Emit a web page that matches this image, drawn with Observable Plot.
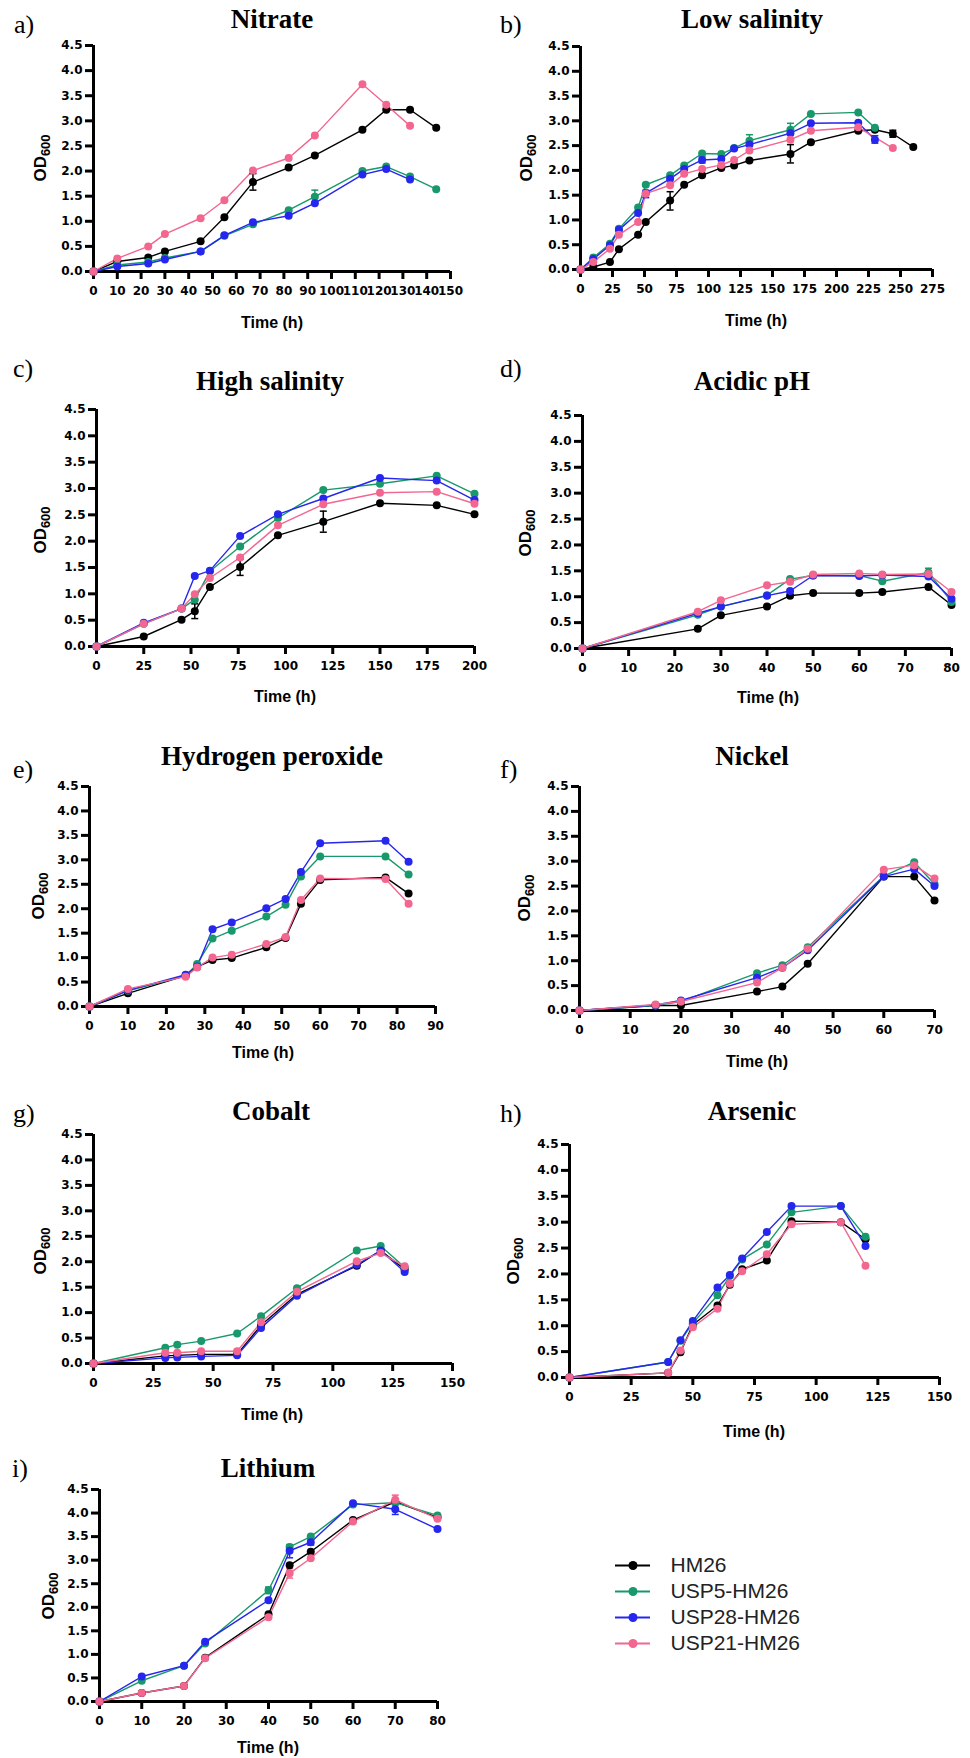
<!DOCTYPE html>
<html><head><meta charset="utf-8">
<script src="https://cdn.jsdelivr.net/npm/d3@7"></script>
<script src="https://cdn.jsdelivr.net/npm/@observablehq/plot@0.6"></script>
<style>
html,body{margin:0;padding:0;background:#fff;}
body{width:970px;height:1758px;position:relative;overflow:hidden;}
.panel{position:absolute;}
#overlay{position:absolute;left:0;top:0;pointer-events:none;}
</style></head><body>
<script>
// ---------- shared ----------
const series = ["HM26", "USP5-HM26", "USP28-HM26", "USP21-HM26"];
const colors = ["#000000", "#17996b", "#2626ee", "#f2668f"];
const yTicks = [0, 0.5, 1, 1.5, 2, 2.5, 3, 3.5, 4, 4.5];
const yLabelMain = "OD";
const yLabelSub = "600";
const xLabel = "Time (h)";

// ---------- a) Nitrate ----------
const timeA  = [0, 10, 23, 30, 45, 55, 67, 82, 93, 113, 123, 133, 144];
const hm26A  = [0, 0.20, 0.28, 0.40, 0.60, 1.08, 1.78, 2.07, 2.31, 2.82, 3.22, 3.22, 2.86];
const usp5A  = [0, 0.13, 0.19, 0.27, 0.40, 0.71, 0.94, 1.22, 1.49, 2.00, 2.09, 1.89, 1.64];
const usp28A = [0, 0.10, 0.16, 0.24, 0.40, 0.72, 0.98, 1.11, 1.36, 1.93, 2.04, 1.83, null];
const usp21A = [0, 0.26, 0.50, 0.745, 1.06, 1.42, 2.01, 2.26, 2.71, 3.73, 3.32, 2.90, null];
const ticksA = [0, 10, 20, 30, 40, 50, 60, 70, 80, 90, 100, 110, 120, 130, 140, 150];
const errA = [["HM26", 67, 1.62, 1.95], ["USP5-HM26", 93, 1.36, 1.62]];

// ---------- b) Low salinity ----------
const timeB  = [0, 10, 23, 30, 45, 51, 70, 81, 95, 110, 120, 132, 164, 180, 217, 230, 244, 260];
const hm26B  = [0, 0.05, 0.15, 0.41, 0.70, 0.96, 1.39, 1.71, 1.90, 2.05, 2.10, 2.20, 2.33, 2.57, 2.80, 2.82, 2.74, 2.47];
const usp5B  = [0, 0.24, 0.52, 0.82, 1.25, 1.71, 1.90, 2.10, 2.34, 2.33, 2.45, 2.60, 2.82, 3.14, 3.17, 2.86, null, null];
const usp28B = [0, 0.21, 0.49, 0.80, 1.14, 1.54, 1.83, 2.03, 2.21, 2.23, 2.44, 2.52, 2.75, 2.95, 2.96, 2.62, null, null];
const usp21B = [0, 0.15, 0.42, 0.70, 0.96, 1.53, 1.70, 1.93, 2.03, 2.11, 2.21, 2.40, 2.62, 2.80, 2.87, null, 2.45, null];
const ticksB = [0, 25, 50, 75, 100, 125, 150, 175, 200, 225, 250, 275];
const errB = [["HM26", 70, 1.20, 1.57], ["HM26", 164, 2.15, 2.52], ["USP5-HM26", 132, 2.55, 2.72],
              ["USP5-HM26", 164, 2.72, 2.95], ["HM26", 244, 2.67, 2.81], ["USP28-HM26", 230, 2.55, 2.70],
              ["USP28-HM26", 51, 1.45, 1.60], ["USP28-HM26", 95, 2.15, 2.27]];

// ---------- c) High salinity ----------
const timeC  = [0, 25, 45, 52, 60, 76, 96, 120, 150, 180, 200];
const hm26C  = [0, 0.19, 0.51, 0.67, 1.13, 1.51, 2.11, 2.37, 2.72, 2.68, 2.51];
const usp5C  = [0, 0.43, 0.72, 0.89, 1.43, 1.90, 2.44, 2.97, 3.09, 3.24, 2.90];
const usp28C = [0, 0.45, 0.72, 1.34, 1.44, 2.10, 2.51, 2.81, 3.20, 3.15, 2.78];
const usp21C = [0, 0.43, 0.72, 0.99, 1.30, 1.69, 2.30, 2.70, 2.92, 2.94, 2.71];
const ticksC = [0, 25, 50, 75, 100, 125, 150, 175, 200];
const errC = [["HM26", 52, 0.53, 0.81], ["HM26", 76, 1.35, 1.66], ["HM26", 120, 2.17, 2.57]];

// ---------- d) Acidic pH ----------
const timeD  = [0, 25, 30, 40, 45, 50, 60, 65, 75, 80];
const hm26D  = [0, 0.38, 0.64, 0.81, 1.02, 1.07, 1.07, 1.09, 1.19, 0.84];
const usp5D  = [0, 0.65, 0.81, 1.03, 1.34, 1.41, 1.41, 1.30, 1.47, 0.90];
const usp28D = [0, 0.68, 0.81, 1.02, 1.11, 1.41, 1.40, 1.42, 1.39, 0.96];
const usp21D = [0, 0.71, 0.93, 1.22, 1.29, 1.43, 1.45, 1.43, 1.44, 1.09];
const ticksD = [0, 10, 20, 30, 40, 50, 60, 70, 80];
const errD = [["USP5-HM26", 75, 1.42, 1.55]];

// ---------- e) Hydrogen peroxide ----------
const timeE  = [0, 10, 25, 28, 32, 37, 46, 51, 55, 60, 77, 83];
const hm26E  = [0, 0.27, 0.63, 0.81, 0.95, 0.99, 1.21, 1.40, 2.10, 2.59, 2.64, 2.31];
const usp5E  = [0, 0.32, 0.63, 0.87, 1.39, 1.55, 1.84, 2.08, 2.66, 3.07, 3.07, 2.70];
const usp28E = [0, 0.33, 0.65, 0.82, 1.58, 1.72, 2.01, 2.20, 2.75, 3.34, 3.39, 2.96];
const usp21E = [0, 0.36, 0.61, 0.80, 1.00, 1.06, 1.28, 1.42, 2.18, 2.62, 2.61, 2.10];
const ticksE = [0, 10, 20, 30, 40, 50, 60, 70, 80, 90];
const errE = [];

// ---------- f) Nickel ----------
const timeF  = [0, 15, 20, 35, 40, 45, 60, 66, 70];
const hm26F  = [0, 0.10, 0.10, 0.38, 0.48, 0.94, 2.69, 2.69, 2.21];
const usp5F  = [0, 0.10, 0.18, 0.75, 0.91, 1.27, 2.70, 2.98, 2.54];
const usp28F = [0, 0.11, 0.20, 0.66, 0.86, 1.21, 2.69, 2.84, 2.50];
const usp21F = [0, 0.12, 0.18, 0.56, 0.86, 1.24, 2.83, 2.92, 2.65];
const ticksF = [0, 10, 20, 30, 40, 50, 60, 70];
const errF = [];

// ---------- g) Cobalt ----------
const timeG  = [0, 30, 35, 45, 60, 70, 85, 110, 120, 130];
const hm26G  = [0, 0.15, 0.16, 0.18, 0.18, 0.75, 1.36, 1.92, 2.22, 1.85];
const usp5G  = [0, 0.31, 0.37, 0.44, 0.59, 0.93, 1.48, 2.22, 2.31, 1.89];
const usp28G = [0, 0.11, 0.12, 0.14, 0.16, 0.70, 1.33, 1.94, 2.22, 1.80];
const usp21G = [0, 0.21, 0.21, 0.24, 0.24, 0.81, 1.41, 2.01, 2.17, 1.91];
const ticksG = [0, 25, 50, 75, 100, 125, 150];
const errG = [];

// ---------- h) Arsenic ----------
const timeH  = [0, 40, 45, 50, 60, 65, 70, 80, 90, 110, 120];
const hm26H  = [0, 0.09, 0.49, 1.02, 1.39, 1.79, 2.09, 2.26, 3.02, 3.00, 2.67];
const usp5H  = [0, 0.30, 0.71, 1.05, 1.59, 1.96, 2.28, 2.57, 3.19, 3.31, 2.72];
const usp28H = [0, 0.30, 0.72, 1.09, 1.74, 1.98, 2.30, 2.81, 3.31, 3.31, 2.54];
const usp21H = [0, 0.09, 0.52, 0.97, 1.33, 1.81, 2.05, 2.38, 2.96, 3.00, 2.16];
const ticksH = [0, 25, 50, 75, 100, 125, 150];
const errH = [];

// ---------- i) Lithium ----------
const timeI  = [0, 10, 20, 25, 40, 45, 50, 60, 70, 80];
const hm26I  = [0, 0.18, 0.33, 0.93, 1.85, 2.89, 3.18, 3.85, 4.24, 3.91];
const usp5I  = [0, 0.44, 0.76, 1.23, 2.36, 3.28, 3.50, 4.18, 4.22, 3.95];
const usp28I = [0, 0.53, 0.76, 1.27, 2.15, 3.20, 3.38, 4.21, 4.08, 3.66];
const usp21I = [0, 0.18, 0.33, 0.92, 1.79, 2.72, 3.04, 3.82, 4.28, 3.88];
const ticksI = [0, 10, 20, 30, 40, 50, 60, 70, 80];
const errI = [["USP21-HM26", 70, 4.17, 4.38], ["USP28-HM26", 70, 3.97, 4.20], ["USP21-HM26", 45, 2.62, 2.82],
              ["USP28-HM26", 45, 3.05, 3.30], ["USP5-HM26", 40, 2.29, 2.43], ["USP28-HM26", 50, 3.32, 3.45],
              ["USP5-HM26", 45, 3.22, 3.33]];

// ---------- layout (pixel geometry of each panel) ----------
const layout = [
  {tag: "a)", title: "Nitrate",           time: timeA, vals: [hm26A, usp5A, usp28A, usp21A], ticks: ticksA, err: errA,
   x0: 93,  x1: 450, yT: 45,   yB: 271,  lab: [14, 33],   tc: [272, 28],   od: [46, 158],  tx: [272, 328]},
  {tag: "b)", title: "Low salinity",      time: timeB, vals: [hm26B, usp5B, usp28B, usp21B], ticks: ticksB, err: errB,
   x0: 580, x1: 932, yT: 46,   yB: 269,  lab: [500, 33],  tc: [752, 28],   od: [532, 158], tx: [756, 326]},
  {tag: "c)", title: "High salinity",     time: timeC, vals: [hm26C, usp5C, usp28C, usp21C], ticks: ticksC, err: errC,
   x0: 96,  x1: 474, yT: 409,  yB: 646,  lab: [13, 377],  tc: [270, 390],  od: [46, 530],  tx: [285, 702]},
  {tag: "d)", title: "Acidic pH",         time: timeD, vals: [hm26D, usp5D, usp28D, usp21D], ticks: ticksD, err: errD,
   x0: 582, x1: 951, yT: 415,  yB: 648,  lab: [500, 377], tc: [752, 390],  od: [531, 533], tx: [768, 703]},
  {tag: "e)", title: "Hydrogen peroxide", time: timeE, vals: [hm26E, usp5E, usp28E, usp21E], ticks: ticksE, err: errE,
   x0: 89,  x1: 435, yT: 786,  yB: 1006, lab: [13, 778],  tc: [272, 765],  od: [44, 896],  tx: [263, 1058]},
  {tag: "f)", title: "Nickel",            time: timeF, vals: [hm26F, usp5F, usp28F, usp21F], ticks: ticksF, err: errF,
   x0: 579, x1: 934, yT: 786,  yB: 1010, lab: [500, 778], tc: [752, 765],  od: [530, 898], tx: [757, 1067]},
  {tag: "g)", title: "Cobalt",            time: timeG, vals: [hm26G, usp5G, usp28G, usp21G], ticks: ticksG, err: errG,
   x0: 93,  x1: 452, yT: 1134, yB: 1363, lab: [13, 1122], tc: [271, 1120], od: [46, 1251], tx: [272, 1420]},
  {tag: "h)", title: "Arsenic",           time: timeH, vals: [hm26H, usp5H, usp28H, usp21H], ticks: ticksH, err: errH,
   x0: 569, x1: 939, yT: 1144, yB: 1377, lab: [500, 1122], tc: [752, 1120], od: [519, 1261], tx: [754, 1437]},
  {tag: "i)", title: "Lithium",           time: timeI, vals: [hm26I, usp5I, usp28I, usp21I], ticks: ticksI, err: errI,
   x0: 99,  x1: 437, yT: 1489, yB: 1701, lab: [12, 1477], tc: [268, 1477], od: [54, 1596], tx: [268, 1753]}
];

const ML = 45, MR = 16, MT = 12, MB = 30;
const fmt = d3.format(".1f");
const capSymbol = {draw(ctx) { ctx.moveTo(-3.5, 0); ctx.lineTo(3.5, 0); }};

function tidy(times, vals) {
  const rows = [];
  vals.forEach((arr, i) => arr.forEach((v, j) => {
    if (v != null) rows.push({s: series[i], t: times[j], v});
  }));
  return rows;
}

for (const p of layout) {
  const data = tidy(p.time, p.vals);
  const err = p.err.map(([s, t, lo, hi]) => ({s, t, lo, hi}));
  const xmax = p.ticks[p.ticks.length - 1];
  const chart = Plot.plot({
    width: p.x1 - p.x0 + ML + MR,
    height: p.yB - p.yT + MT + MB,
    marginLeft: ML, marginRight: MR, marginTop: MT, marginBottom: MB,
    x: {domain: [0, xmax]},
    y: {domain: [0, 4.5]},
    color: {domain: series, range: colors},
    style: {fontFamily: "'DejaVu Sans', 'Liberation Sans', sans-serif", fontSize: "12px", fontWeight: "bold",
            background: "transparent", overflow: "visible", color: "#000"},
    marks: [
      Plot.axisX({ticks: p.ticks, tickSize: 8, tickPadding: 7, strokeWidth: 3, label: null, tickFormat: d => String(d)}),
      Plot.axisY({ticks: yTicks, tickSize: 8, tickPadding: 3, strokeWidth: 3, label: null, tickFormat: fmt}),
      Plot.ruleX([0], {strokeWidth: 3}),
      Plot.ruleY([0], {strokeWidth: 3}),
      Plot.line(data, {x: "t", y: "v", stroke: "s", z: "s", strokeWidth: 1.4}),
      Plot.ruleX(err, {x: "t", y1: "lo", y2: "hi", stroke: "s", strokeWidth: 1.5}),
      Plot.dot(err, {x: "t", y: "lo", symbol: capSymbol, stroke: "s", strokeWidth: 1.5}),
      Plot.dot(err, {x: "t", y: "hi", symbol: capSymbol, stroke: "s", strokeWidth: 1.5}),
      Plot.dot(data, {x: "t", y: "v", fill: "s", r: 4})
    ]
  });
  const div = document.createElement("div");
  div.className = "panel";
  div.style.left = (p.x0 - ML) + "px";
  div.style.top = (p.yT - MT) + "px";
  div.appendChild(chart);
  document.body.appendChild(div);
}

// ---------- legend (drawn with Plot) ----------
const legendRow = 26;
const legend = Plot.plot({
  width: 35 + 230, height: legendRow * 3 + 24,
  marginLeft: 0, marginRight: 230, marginTop: 12, marginBottom: 12,
  x: {domain: [0, 1], axis: null},
  y: {type: "point", domain: series, padding: 0, axis: null},
  color: {domain: series, range: colors},
  style: {fontFamily: "'Liberation Sans', Arial, sans-serif", background: "transparent", overflow: "visible"},
  marks: [
    Plot.ruleY(series, {y: d => d, x1: 0, x2: 1, stroke: d => d, strokeWidth: 2}),
    Plot.dot(series, {y: d => d, x: 0.5, fill: d => d, r: 4.5}),
    Plot.text(series, {y: d => d, x: 1, text: d => d, dx: 20, textAnchor: "start", fontSize: 21, fill: "#222"})
  ]
});
const ldiv = document.createElement("div");
ldiv.className = "panel";
ldiv.style.left = "615px";
ldiv.style.top = (1565 - 12) + "px";
ldiv.appendChild(legend);
document.body.appendChild(ldiv);

// ---------- text overlay: panel tags, titles, axis labels ----------
const svg = d3.select("body").append("svg").attr("id", "overlay").attr("width", 970).attr("height", 1758);
for (const p of layout) {
  svg.append("text").attr("x", p.lab[0]).attr("y", p.lab[1])
    .attr("font-family", "'Liberation Serif', 'Times New Roman', serif").attr("font-size", 26).text(p.tag);
  svg.append("text").attr("x", p.tc[0]).attr("y", p.tc[1]).attr("text-anchor", "middle")
    .attr("font-family", "'Liberation Serif', 'Times New Roman', serif").attr("font-weight", "bold")
    .attr("font-size", 27).text(p.title);
  svg.append("text").attr("x", p.tx[0]).attr("y", p.tx[1]).attr("text-anchor", "middle")
    .attr("font-family", "'Liberation Sans', Arial, sans-serif").attr("font-weight", "bold")
    .attr("font-size", 16).text(xLabel);
  const od = svg.append("text")
    .attr("transform", `translate(${p.od[0]},${p.od[1]}) rotate(-90)`)
    .attr("text-anchor", "middle")
    .attr("font-family", "'Liberation Sans', Arial, sans-serif").attr("font-weight", "bold")
    .attr("font-size", 17);
  od.append("tspan").text(yLabelMain);
  od.append("tspan").attr("font-size", 13).attr("dy", 4).text(yLabelSub);
}
</script>
</body></html>
